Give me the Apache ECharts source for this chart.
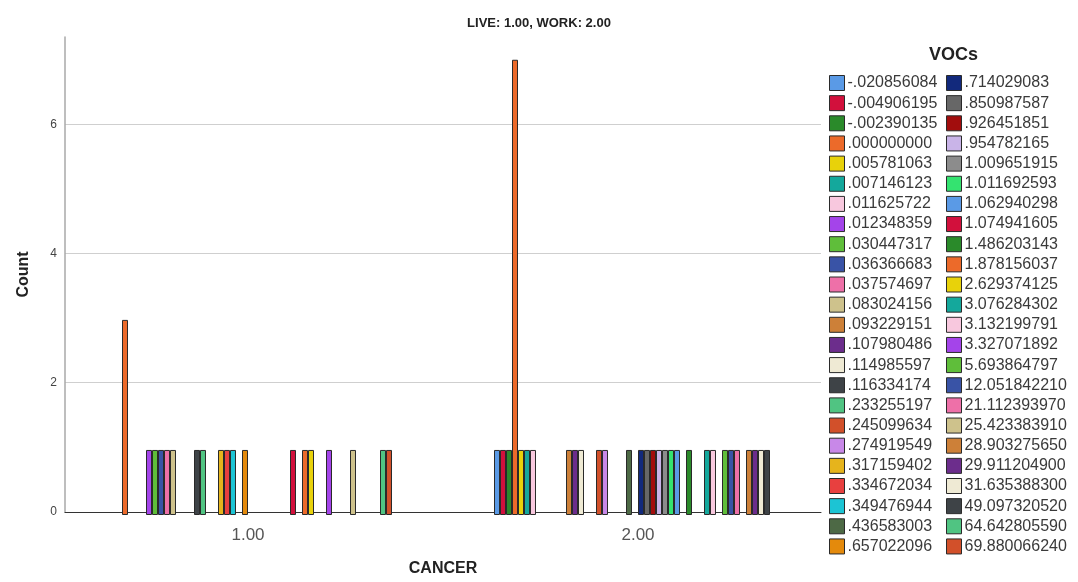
<!DOCTYPE html>
<html>
<head>
<meta charset="utf-8">
<script src="https://cdn.jsdelivr.net/npm/echarts@6/dist/echarts.min.js"></script>
<style>
html,body{margin:0;padding:0;background:#fff;}
#chart{width:1078px;height:582px;}
</style>
</head>
<body>
<div id="chart"></div>
<script>
const categories = ['1.00', '2.00'];

const vocs = [
  '-.020856084', '-.004906195', '-.002390135', '.000000000', '.005781063', '.007146123',
  '.011625722', '.012348359', '.030447317', '.036366683', '.037574697', '.083024156',
  '.093229151', '.107980486', '.114985597', '.116334174', '.233255197', '.245099634',
  '.274919549', '.317159402', '.334672034', '.349476944', '.436583003', '.657022096',
  '.714029083', '.850987587', '.926451851', '.954782165', '1.009651915', '1.011692593',
  '1.062940298', '1.074941605', '1.486203143', '1.878156037', '2.629374125', '3.076284302',
  '3.132199791', '3.327071892', '5.693864797', '12.051842210', '21.112393970', '25.423383910',
  '28.903275650', '29.911204900', '31.635388300', '49.097320520', '64.642805590', '69.880066240'
];

// counts per VOC value, CANCER = 1.00
const countsCancer1 = [
  0,0,0,3,0,0,0,1,1,1,
  1,1,0,0,0,1,1,0,0,1,
  1,1,0,1,0,0,0,0,0,0,
  0,1,0,1,1,0,0,1,0,0,
  0,1,0,0,0,0,1,1
];
// counts per VOC value, CANCER = 2.00
const countsCancer2 = [
  1,1,1,7,1,1,1,0,0,0,
  0,0,1,1,1,0,0,1,1,0,
  0,0,1,0,1,1,1,1,1,1,
  1,0,1,0,0,1,1,0,1,1,
  1,0,1,1,1,1,0,0
];

const yTicks = [0, 2, 4, 6];

const palette = [
  '#5A9AE6', '#D2103C', '#2A8A2A', '#EC6A2A', '#E8D20A', '#14A89C',
  '#F8C8DE', '#A444EA', '#5FBE3A', '#3953A6', '#EE70A8', '#CEC28C',
  '#CD8038', '#6C2D8C', '#EFEAD4', '#3E4347', '#50C482', '#D2502A',
  '#C888E8', '#E6B41C', '#E8403F', '#1CC4D4', '#4D6945', '#E48A0C',
  '#12297C', '#676767', '#A20D0D', '#C9B4E8', '#8C8C8C', '#34E370'
];

const FONT = 'Liberation Sans, Arial, sans-serif';

const series = vocs.map((name, i) => ({
  name: name,
  type: 'bar',
  xAxisIndex: 0,
  yAxisIndex: 0,
  barWidth: 6,
  barGap: '0%',
  itemStyle: { color: palette[i % palette.length], borderColor: '#2a2a2a', borderWidth: 1 },
  data: [countsCancer1[i], countsCancer2[i]].map(v => v === 0 ? '-' : v)
}));

const legendCommon = {
  orient: 'vertical',
  top: 75,
  padding: 0,
  itemWidth: 15,
  itemHeight: 15,
  itemGap: 4.15,
  icon: 'rect',
  selectedMode: false,
  itemStyle: { borderColor: '#2a2a2a', borderWidth: 1 },
  textStyle: { fontFamily: FONT, fontSize: 16, lineHeight: 15, color: '#3a3a3a', padding: [0, 0, 0, -2] }
};

const chart = echarts.init(document.getElementById('chart'));
chart.setOption({
  animation: false,
  backgroundColor: '#fff',
  title: [
    { text: 'LIVE: 1.00, WORK: 2.00', left: 'center', top: 12,
      textStyle: { fontFamily: FONT, fontSize: 13, fontWeight: 'bold', color: '#222' } },
    { text: 'VOCs', left: 924, top: 41,
      textStyle: { fontFamily: FONT, fontSize: 18, fontWeight: 'bold', color: '#222' } }
  ],
  legend: [
    Object.assign({}, legendCommon, { left: 829, data: vocs.slice(0, 24) }),
    Object.assign({}, legendCommon, { left: 946, data: vocs.slice(24) })
  ],
  grid: [
    { left: 53, right: 245, top: 37, bottom: 67 },
    { left: 65, right: 257, top: 37, bottom: 67 }
  ],
  xAxis: [
    { type: 'category', gridIndex: 0, data: categories,
      axisLine: { show: false }, axisTick: { show: false },
      axisLabel: { fontFamily: FONT, fontSize: 17, color: '#555', margin: 12 } },
    { type: 'value', gridIndex: 1, min: 0, max: 1,
      axisLine: { show: true, lineStyle: { color: '#333', width: 1 } },
      axisTick: { show: false }, axisLabel: { show: false }, splitLine: { show: false },
      name: 'CANCER', nameLocation: 'middle', nameGap: 49,
      nameTextStyle: { fontFamily: FONT, fontSize: 16, fontWeight: 'bold', color: '#222' } }
  ],
  yAxis: [
    { type: 'value', gridIndex: 0, min: 0, max: 7.35, interval: 2, show: false, splitLine: { show: false } },
    { type: 'value', gridIndex: 1, min: 0, max: 7.35, interval: 2,
      axisLine: { show: true, lineStyle: { color: '#a8a8a8', width: 1.5 } },
      axisTick: { show: false },
      axisLabel: { fontFamily: FONT, fontSize: 12, color: '#444', margin: 8, showMaxLabel: false,
        formatter: v => yTicks.indexOf(v) >= 0 ? String(v) : '' },
      splitLine: { show: true, showMaxLine: false, lineStyle: { color: '#cfcfcf', width: 1 } },
      name: 'Count', nameLocation: 'middle', nameGap: 33, nameRotate: 90,
      nameTextStyle: { fontFamily: FONT, fontSize: 16, fontWeight: 'bold', color: '#222' } }
  ],
  series: series
});
</script>
</body>
</html>
